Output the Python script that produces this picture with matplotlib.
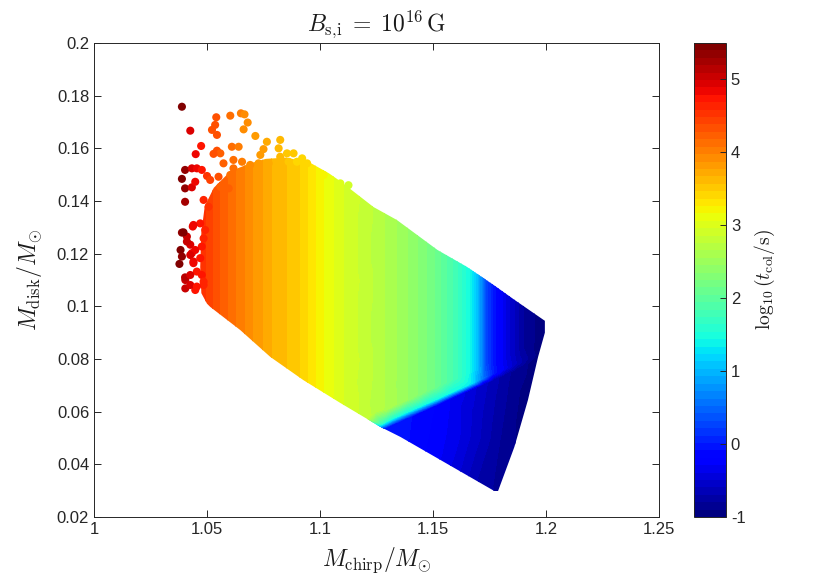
import numpy as np
import matplotlib
matplotlib.use("Agg")
import matplotlib.pyplot as plt
import matplotlib.tri as mtri
from matplotlib.patches import Polygon
from matplotlib.colors import Normalize
from matplotlib.cm import ScalarMappable

plt.rcParams['font.family'] = ['Liberation Sans', 'DejaVu Sans']
plt.rcParams['mathtext.fontset'] = 'cm'

# ---------------- data ----------------
# outline of the densely filled part of the cloud (M_chirp, M_disk)
edge_x = [1.0500, 1.0475, 1.0470, 1.0475, 1.0490, 1.0530, 1.0600, 1.0680, 1.0760,
          1.0850, 1.0957, 1.1040, 1.1090, 1.1237, 1.1340, 1.1520, 1.1650, 1.1770,
          1.1860, 1.1995, 1.1995, 1.1965, 1.1920, 1.1860, 1.1785, 1.1356, 1.1268,
          1.1090, 1.0926, 1.0780, 1.0647, 1.0514]
edge_y = [0.1010, 0.1050, 0.1150, 0.1280, 0.1380, 0.1450, 0.1510, 0.1540, 0.1560,
          0.1565, 0.1545, 0.1505, 0.1475, 0.1377, 0.1328, 0.1214, 0.1150, 0.1080,
          0.1025, 0.0945, 0.0900, 0.0808, 0.0644, 0.0466, 0.0292, 0.0504, 0.0542,
          0.0633, 0.0720, 0.0808, 0.0910, 0.0998]

# colour (log10 t_col) read along columns of M_chirp in the slow branch (left part)
col_x = [1.035, 1.042, 1.045, 1.050, 1.060, 1.070, 1.080, 1.090, 1.100, 1.110, 1.120]
col_c = [5.5, 5.0, 4.65, 4.45, 4.15, 3.88, 3.64, 3.5, 3.2, 2.97, 2.82]
col_rows = [0.05, 0.08, 0.11, 0.14, 0.17, 0.19]

# right part of the slow branch: column x, colour, lowest sample height
rcol_x = [1.130, 1.140, 1.150, 1.160, 1.166, 1.170, 1.173, 1.177, 1.183, 1.190, 1.200]
rcol_c = [2.63, 2.43, 2.17, 1.8, 1.45, 1.0, 0.35, -0.05, -0.45, -0.8, -1.0]
rcol_y0 = [0.0614, 0.0652, 0.0691, 0.0729, 0.0752, 0.0767, 0.0779, 0.0794, 0.0817, 0.0844, 0.0882]
rcol_rows = [0.09, 0.12, 0.15]

# samples along the lower edge just left of where the kink starts
toe_x = [1.121, 1.124]
toe_y = [0.0575, 0.0600]
toe_c = [2.8, 2.72]

# the kink separating the fast (blue) branch: samples just above / below it
kink_x = [1.1268, 1.132, 1.137, 1.142, 1.147, 1.152, 1.157, 1.162,
          1.167, 1.172, 1.177, 1.182, 1.187, 1.192, 1.197, 1.202]
kink_up_y = [0.0554, 0.0574, 0.0593, 0.0612, 0.0631, 0.0650, 0.0670, 0.0689,
             0.0708, 0.0727, 0.0746, 0.0765, 0.0784, 0.0804, 0.0823, 0.0842]
kink_up_c = [1.7, 1.5, 1.45, 1.45, 1.45, 1.45, 1.45, 1.42,
             1.3, 0.6, 0.0, -0.35, -0.6, -0.8, -0.95, -1.0]
kink_lo_y = [0.0530, 0.0550, 0.0569, 0.0588, 0.0607, 0.0626, 0.0646, 0.0665,
             0.0684, 0.0703, 0.0722, 0.0741, 0.0760, 0.0780, 0.0799, 0.0818]
kink_lo_c = [0.0, -0.02, -0.05, -0.1, -0.15, -0.2, -0.28, -0.35,
             -0.45, -0.55, -0.65, -0.75, -0.85, -0.9, -1.0, -1.0]

# fast branch interior samples
low_x = [1.120, 1.130, 1.140, 1.150, 1.150, 1.160, 1.160, 1.170, 1.170, 1.180,
         1.180, 1.180, 1.190, 1.190, 1.200, 1.200]
low_y = [0.040, 0.048, 0.045, 0.040, 0.055, 0.050, 0.030, 0.035, 0.060, 0.030,
         0.050, 0.065, 0.040, 0.060, 0.070, 0.030]
low_c = [0.1, 0.0, -0.1, -0.25, -0.2, -0.35, -0.5, -0.7, -0.55, -0.85,
         -0.8, -0.75, -0.95, -0.95, -1.0, -1.0]

# individual sparse points at the upper-left fringe
dot_x = [1.0389, 1.0426, 1.0474, 1.0450, 1.0541, 1.0603, 1.0650, 1.0666, 1.0536, 1.0522,
         1.0544, 1.0680, 1.0662, 1.0714, 1.0765, 1.0750, 1.0824, 1.0544, 1.0559, 1.0529,
         1.0610, 1.0640, 1.0617, 1.0655, 1.0691, 1.0728, 1.0573, 1.0736, 1.0773, 1.0817,
         1.0824, 1.0854, 1.0861, 1.0883, 1.0898, 1.0921, 1.0943, 1.0403, 1.0433, 1.0455,
         1.0477, 1.0389, 1.0403, 1.0433, 1.0448, 1.0500, 1.0514, 1.0403, 1.0485, 1.0507,
         1.0551, 1.0559, 1.0596, 1.0603, 1.0617, 1.0647, 1.0389, 1.0383, 1.0378, 1.0389,
         1.0411, 1.0426, 1.0404, 1.0404, 1.0437, 1.0440, 1.0455, 1.0433, 1.1016, 1.1090,
         1.1126, 1.0403, 1.0448, 1.0485, 1.0470, 1.0396, 1.0440, 1.0492, 1.0485, 1.0477,
         1.0448, 1.0426, 1.0440, 1.0470, 1.0477, 1.0426, 1.0426, 1.0455, 1.0485, 1.0411]
dot_y = [0.1758, 0.1667, 0.1609, 0.1578, 0.1718, 0.1724, 0.1733, 0.1729, 0.1689, 0.1670,
         0.1651, 0.1698, 0.1672, 0.1647, 0.1625, 0.1597, 0.1632, 0.1591, 0.1581, 0.1579,
         0.1606, 0.1606, 0.1556, 0.1549, 0.1537, 0.1543, 0.1543, 0.1575, 0.1543, 0.1600,
         0.1568, 0.1581, 0.1549, 0.1581, 0.1549, 0.1562, 0.1543, 0.1518, 0.1524, 0.1524,
         0.1518, 0.1484, 0.1448, 0.1452, 0.1473, 0.1495, 0.1480, 0.1397, 0.1404, 0.1378,
         0.1492, 0.1454, 0.1448, 0.1499, 0.1524, 0.1511, 0.1280, 0.1214, 0.1161, 0.1189,
         0.1265, 0.1234, 0.1100, 0.1068, 0.1303, 0.1164, 0.1132, 0.1202, 0.1499, 0.1467,
         0.1460, 0.1110, 0.1062, 0.1081, 0.1315, 0.1281, 0.1309, 0.1290, 0.1258, 0.1227,
         0.1214, 0.1195, 0.1170, 0.1183, 0.1119, 0.1119, 0.1081, 0.1075, 0.1094, 0.1246]
dot_c = [5.4, 4.9, 4.7, 4.8, 4.3, 4.1, 4.0, 3.95, 4.3, 4.35,
         4.3, 3.9, 3.95, 3.85, 3.75, 3.8, 3.6, 4.3, 4.25, 4.35,
         4.1, 4.05, 4.1, 4.0, 3.9, 3.8, 4.2, 3.8, 3.7, 3.65,
         3.65, 3.55, 3.55, 3.5, 3.45, 3.4, 3.4, 5.3, 4.9, 4.8,
         4.7, 5.4, 5.3, 4.9, 4.8, 4.5, 4.45, 5.2, 4.6, 4.5,
         4.3, 4.25, 4.2, 4.15, 4.1, 4.05, 5.3, 5.4, 5.5, 5.3,
         5.0, 4.9, 5.0, 5.0, 4.8, 4.8, 4.7, 4.8, 3.2, 3.05,
         2.95, 5.1, 4.7, 4.6, 4.7, 5.4, 4.85, 4.6, 4.65, 4.7,
         4.8, 4.9, 4.85, 4.7, 4.7, 4.9, 4.9, 4.75, 4.65, 5.0]

x_ticks = [1, 1.05, 1.1, 1.15, 1.2, 1.25]
y_ticks = [0.02, 0.04, 0.06, 0.08, 0.1, 0.12, 0.14, 0.16, 0.18, 0.2]
cb_ticks = [-1, 0, 1, 2, 3, 4, 5]
c_min, c_max = -1.0, 5.5

# ---------------- assemble sample table ----------------
fx, fy, fc = [], [], []
for xv, cv in zip(col_x, col_c):
    for yv in col_rows:
        fx.append(xv); fy.append(yv); fc.append(cv)
for xv, cv, y0 in zip(rcol_x, rcol_c, rcol_y0):
    for yv in [y0] + [r for r in rcol_rows if r > y0]:
        fx.append(xv); fy.append(yv); fc.append(cv)
fx += toe_x + kink_x + kink_x + low_x
fy += toe_y + kink_up_y + kink_lo_y + low_y
fc += toe_c + kink_up_c + kink_lo_c + low_c

# ---------------- figure ----------------
fig = plt.figure(figsize=(8.3, 5.81), dpi=100)
ax = fig.add_axes([94 / 830, 64 / 581, 565 / 830, 474 / 581])

cmap = plt.get_cmap('jet', 64)
norm = Normalize(vmin=c_min, vmax=c_max)
levels = np.linspace(c_min, c_max, 65)

tri = mtri.Triangulation(fx, fy)
cs = ax.tricontourf(tri, fc, levels=levels, cmap=cmap, norm=norm, extend='both')
clip = Polygon(np.column_stack([edge_x, edge_y]), closed=True,
               transform=ax.transData, facecolor='none', edgecolor='none')
ax.add_patch(clip)
cs.set_clip_path(clip)

ax.scatter(dot_x, dot_y, c=dot_c, cmap=cmap, norm=norm, s=34, linewidths=0, zorder=3)

ax.set_xlim(1, 1.25)
ax.set_ylim(0.02, 0.2)
ax.set_xticks(x_ticks)
ax.set_xticklabels(['%g' % v for v in x_ticks])
ax.set_yticks(y_ticks)
ax.set_yticklabels(['%g' % v for v in y_ticks])
ax.tick_params(direction='in', top=True, right=True, length=5, width=0.7,
               colors='0.15', labelsize=12)
for sp in ax.spines.values():
    sp.set_color('0.15')
    sp.set_linewidth(0.7)

ax.set_xlabel(r'$M_{\rm chirp}/M_{\odot}$', fontsize=17, color='0.1', labelpad=6)
ax.set_ylabel(r'$M_{\rm disk}/M_{\odot}$', fontsize=17, color='0.1', labelpad=9)
ax.set_title(r'$B_{{\rm s},\!{\rm i}}\;=\;10^{16}\,{\rm G}$', fontsize=17, color='0.1', pad=9)

cax = fig.add_axes([694 / 830, 64 / 581, 32 / 830, 474 / 581])
sm = ScalarMappable(norm=norm, cmap=cmap)
cb = fig.colorbar(sm, cax=cax)
cb.set_ticks(cb_ticks)
cb.set_ticklabels(['%d' % v for v in cb_ticks])
cax.tick_params(direction='in', length=4, width=0.7, colors='0.15', labelsize=12)
cb.outline.set_edgecolor('0.15')
cb.outline.set_linewidth(0.7)
cb.set_label(r'$\log_{10}(t_{\rm col}/{\rm s})$', fontsize=14, color='0.1', labelpad=5)

fig.savefig('out.png', dpi=100)
